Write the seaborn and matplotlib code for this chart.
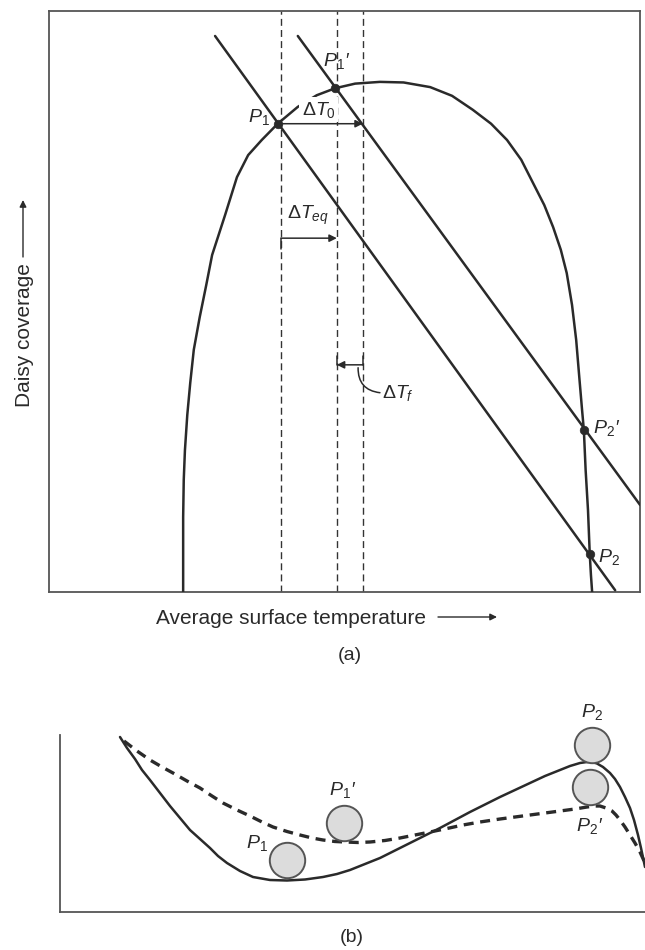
import numpy as np
import pandas as pd
import matplotlib
matplotlib.use("Agg")
import matplotlib.pyplot as plt
import seaborn as sns

sns.set_theme(style="white")
plt.rcParams["font.family"] = ["Liberation Sans", "DejaVu Sans"]
plt.rcParams["mathtext.fontset"] = "custom"
plt.rcParams["mathtext.rm"] = "Liberation Sans"
plt.rcParams["mathtext.it"] = "Liberation Sans:italic"
plt.rcParams["mathtext.bf"] = "Liberation Sans:bold"

INK = "#2a2a2a"

# ---------------- panel (a) data: temperature (0-100) vs daisy coverage (0-1)
growth_T = [22.7, 22.7, 22.8, 23.0, 23.4, 23.9, 24.5, 25.5, 26.6, 27.6, 29.8,
            31.8, 33.7, 36.0, 38.7, 42.1, 45.3, 48.4, 51.8, 56.0, 60.0, 64.5,
            68.2, 71.7, 74.8, 77.5, 79.9, 81.9, 83.8, 85.3, 86.6, 87.6, 88.5,
            89.2, 89.7, 90.2, 90.5, 90.8, 91.2, 91.5, 91.7, 91.9]
growth_cov = [0.0, 0.129, 0.193, 0.244, 0.305, 0.360, 0.417, 0.473, 0.528,
              0.580, 0.649, 0.714, 0.752, 0.778, 0.806, 0.835, 0.855, 0.867,
              0.875, 0.878, 0.877, 0.869, 0.854, 0.830, 0.806, 0.778, 0.744,
              0.704, 0.666, 0.628, 0.589, 0.549, 0.494, 0.434, 0.373, 0.313,
              0.279, 0.210, 0.141, 0.065, 0.029, 0.0]

line1_T = [28.1, 95.8]
line1_cov = [0.957, 0.003]
line2_T = [42.1, 100.0]
line2_cov = [0.957, 0.150]

eq_names = ["$P_1$", "$P_1$′", "$P_2$′", "$P_2$"]
eq_T = [38.7, 48.4, 90.5, 91.5]
eq_cov = [0.806, 0.867, 0.279, 0.065]

dash_T = [39.3, 48.7, 53.1]   # T(P1), T(P1) + dT_eq, T(P1) + dT_0

# ---------------- panel (b) data: potential landscape (arbitrary units)
pos_solid = [60, 67, 75, 82, 90, 100, 110, 120, 130, 140, 150, 158, 167, 180,
             193, 210, 227, 245, 263, 277, 290, 305, 320, 335, 350, 365, 380,
             395, 410, 425, 440, 455, 470, 485, 500, 510, 520, 527, 532, 537,
             543, 550, 555, 560, 565, 570, 574, 578, 581, 585]
pot_solid = [175, 164, 153, 142, 132, 119, 106, 94, 82, 73, 64, 56, 49, 41,
             35, 32, 31.5, 32.5, 35, 38, 42, 48, 54, 61.5, 69, 76.5, 84, 92,
             100, 107.5, 115, 122, 129, 136, 142, 146, 149, 150, 150, 148.5,
             145, 139, 133, 125, 115, 104, 92, 77, 64, 45]
pos_dashed = [64, 77, 90, 102, 113, 127, 140, 152, 163, 177, 190, 202, 213,
              227, 240, 252, 263, 275, 285, 298, 310, 325, 340, 355, 370, 387,
              403, 420, 440, 455, 470, 485, 500, 515, 527, 535, 540, 546, 552,
              556, 560, 565, 570, 575, 580, 585]
pot_dashed = [171, 161, 152, 145, 139, 131, 124, 116, 109, 102, 96, 90, 85,
              80.5, 77, 74, 72, 70.5, 70, 69.5, 70, 71.5, 74, 77, 80, 83.5, 87,
              90, 93, 95, 97, 99, 101, 103, 105, 106, 106, 104, 101, 97, 92,
              85, 77, 69, 60, 49]

ball_names = ["$P_1$", "$P_1$′", "$P_2$", "$P_2$′"]
ball_pos = [227, 284, 532, 530]
ball_pot = [52, 89, 167, 125]

W, H = 645, 950
fig = plt.figure(figsize=(W / 100, H / 100), dpi=100)

def fx(px):
    return px / W

def fy(py):
    return 1 - py / H

# ================= panel (a)
axA = fig.add_axes([fx(49), fy(592), 591 / W, 581 / H])
axA.set_xlim(0, 100)
axA.set_ylim(0, 1)
axA.set_xticks([])
axA.set_yticks([])
for s in axA.spines.values():
    s.set_visible(True)
    s.set_color("#555555")
    s.set_linewidth(1.3)

for t in dash_T:
    axA.axvline(t, color="#333333", lw=1.0, linestyle=(0, (5, 3)), zorder=1)

df_g = pd.DataFrame({"T": growth_T, "cov": growth_cov})
sns.lineplot(data=df_g, x="T", y="cov", sort=False, estimator=None, ax=axA,
             color=INK, lw=1.8, zorder=3)
sns.lineplot(x=line1_T, y=line1_cov, sort=False, estimator=None, ax=axA,
             color=INK, lw=1.8, zorder=3)
sns.lineplot(x=line2_T, y=line2_cov, sort=False, estimator=None, ax=axA,
             color=INK, lw=1.8, zorder=3)
sns.scatterplot(x=eq_T, y=eq_cov, ax=axA, color=INK, s=38, edgecolor=INK,
                zorder=5, legend=False)

fs = 14
tkw = dict(fontsize=fs, color=INK, fontstyle="italic")
axA.text(37.4, 0.818, eq_names[0], ha="right", va="center", zorder=6, **tkw)
axA.text(48.6, 0.897, eq_names[1], ha="center", va="bottom", zorder=6, **tkw)
axA.text(92.0, 0.283, eq_names[2], ha="left", va="center", zorder=6, **tkw)
axA.text(92.9, 0.060, eq_names[3], ha="left", va="center", zorder=6, **tkw)

arrow_kw = dict(arrowstyle="-|>", color=INK, lw=1.1, mutation_scale=11,
                shrinkA=0, shrinkB=0)
# dT_0
axA.annotate("", xy=(dash_T[2], eq_cov[0]), xytext=(eq_T[0], eq_cov[0]),
             arrowprops=arrow_kw, zorder=4)
axA.text(45.6, 0.830, r"$\Delta T_0$", fontsize=fs, ha="center", va="center",
         color=INK, zorder=4,
         bbox=dict(boxstyle="square,pad=0.12", fc="white", ec="none"))
# dT_eq
y_eq = 0.609
axA.annotate("", xy=(dash_T[1], y_eq), xytext=(dash_T[0], y_eq),
             arrowprops=arrow_kw, zorder=4)
axA.plot([dash_T[0], dash_T[0]], [y_eq, y_eq - 0.018], color=INK, lw=1.1)
axA.text(43.9, 0.648, r"$\Delta T_{eq}$", fontsize=fs, ha="center", va="center", color=INK)
# dT_f
y_f = 0.391
axA.annotate("", xy=(dash_T[1], y_f), xytext=(dash_T[2], y_f),
             arrowprops=arrow_kw, zorder=4)
axA.plot([dash_T[1], dash_T[1]], [y_f, y_f + 0.016], color=INK, lw=1.1)
axA.plot([dash_T[2], dash_T[2]], [y_f, y_f + 0.016], color=INK, lw=1.1)
axA.annotate("", xy=(52.3, 0.386), xytext=(56.0, 0.343),
             arrowprops=dict(arrowstyle="-", color=INK, lw=1.1, shrinkA=0, shrinkB=0,
                             connectionstyle="arc3,rad=-0.45"))
axA.text(56.3, 0.343, r"$\Delta T_f$", fontsize=fs, ha="left", va="center", color=INK)

# axis labels of (a)
fig.text(fx(156), fy(619), "Average surface temperature", fontsize=15,
         ha="left", va="center", color=INK)
axA.annotate("", xy=(fx(497), fy(617)), xytext=(fx(438), fy(617)),
             xycoords="figure fraction", textcoords="figure fraction",
             arrowprops=dict(arrowstyle="-|>", color=INK, lw=1.0, mutation_scale=10,
                             shrinkA=0, shrinkB=0), annotation_clip=False)
fig.text(fx(24), fy(335), "Daisy coverage", fontsize=15, rotation=90,
         ha="center", va="center", color=INK)
axA.annotate("", xy=(fx(23), fy(200)), xytext=(fx(23), fy(257)),
             xycoords="figure fraction", textcoords="figure fraction",
             arrowprops=dict(arrowstyle="-|>", color=INK, lw=1.0, mutation_scale=10,
                             shrinkA=0, shrinkB=0), annotation_clip=False)
fig.text(fx(350), fy(655), "(a)", fontsize=14, ha="center", va="center", color=INK)

# ================= panel (b)
axB = fig.add_axes([fx(60), fy(912), 585 / W, 177 / H])
axB.set_xlim(0, 585)
axB.set_ylim(0, 177)
axB.set_xticks([])
axB.set_yticks([])
for k, s in axB.spines.items():
    if k in ("left", "bottom"):
        s.set_visible(True)
        s.set_color("#555555")
        s.set_linewidth(1.3)
    else:
        s.set_visible(False)

sns.lineplot(x=pos_solid, y=pot_solid, sort=False, estimator=None, ax=axB,
             color=INK, lw=1.8, zorder=3)
sns.lineplot(x=pos_dashed, y=pot_dashed, sort=False, estimator=None, ax=axB,
             color=INK, lw=2.4, linestyle=(0, (3, 2)), zorder=3)
sns.scatterplot(x=ball_pos, y=ball_pot, ax=axB, s=650, color="#dcdcdc",
                edgecolor="#555555", linewidth=1.4, zorder=4, legend=False,
                clip_on=False)

axB.text(197, 69, ball_names[0], ha="center", va="center", **tkw)
axB.text(283, 122, ball_names[1], ha="center", va="center", **tkw)
axB.text(532, 200, ball_names[2], ha="center", va="center", **tkw)
axB.text(530, 86, ball_names[3], ha="center", va="center", **tkw)

fig.text(fx(352), fy(937), "(b)", fontsize=14, ha="center", va="center", color=INK)

fig.savefig("out.png", dpi=100, facecolor="white")
